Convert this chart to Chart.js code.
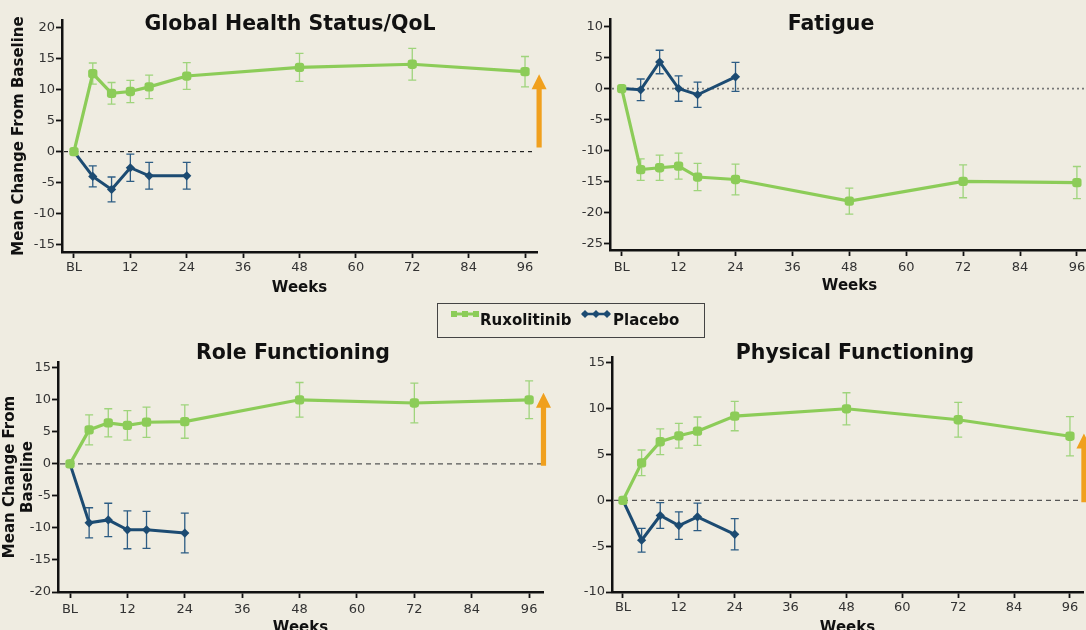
<!DOCTYPE html>
<html><head><meta charset="utf-8">
<script src="https://cdn.jsdelivr.net/npm/chart.js@4.4.1/dist/chart.umd.min.js"></script>
<style>
html,body{margin:0;padding:0;background:#efece1;width:1086px;height:630px;overflow:hidden;position:relative;font-family:"DejaVu Sans",Verdana,sans-serif;}
.wrap{position:absolute;}
.wrap canvas{display:block;}
.title{position:absolute;font-weight:bold;font-size:20.5px;line-height:20px;color:#111;white-space:nowrap;transform:translateX(-50%);}
#legend{position:absolute;left:437px;top:303px;width:266px;height:33px;border:1.5px solid #444;z-index:5;}
#legend .item{position:absolute;top:7px;font-weight:bold;font-size:15px;line-height:18px;color:#111;white-space:nowrap;}
#legend svg{position:absolute;}
</style></head>
<body>
<div class="wrap" style="left:0;top:0"><canvas id="c1" width="560" height="300"></canvas></div>
<div class="wrap" style="left:560px;top:0"><canvas id="c2" width="560" height="300"></canvas></div>
<div class="wrap" style="left:0;top:310px"><canvas id="c3" width="560" height="330"></canvas></div>
<div class="wrap" style="left:560px;top:310px"><canvas id="c4" width="540" height="330"></canvas></div>

<div class="title" style="left:290px;top:13px">Global Health Status/QoL</div>
<div class="title" style="left:831px;top:13px">Fatigue</div>
<div class="title" style="left:293px;top:342px">Role Functioning</div>
<div class="title" style="left:855px;top:342px">Physical Functioning</div>

<div id="legend">
  <svg style="left:13px;top:5px" width="28" height="10"><line x1="1" y1="5" x2="27" y2="5" stroke="#8ccc58" stroke-width="3"/><rect x="0" y="2" width="6" height="6" fill="#8ccc58"/><rect x="11" y="2" width="6" height="6" fill="#8ccc58"/><rect x="22" y="2" width="6" height="6" fill="#8ccc58"/></svg>
  <span class="item" style="left:42px">Ruxolitinib</span>
  <svg style="left:143px;top:5px" width="30" height="10"><line x1="1" y1="5" x2="29" y2="5" stroke="#1c4b72" stroke-width="2.5"/><path d="M4 1 L8 5 L4 9 L0 5Z M15 1 L19 5 L15 9 L11 5Z M26 1 L30 5 L26 9 L22 5Z" fill="#1c4b72"/></svg>
  <span class="item" style="left:175px">Placebo</span>
</div>

<script>
// ---- data ----
const weeksRux = [0, 4, 8, 12, 16, 24, 48, 72, 96];
const weeksPbo = [0, 4, 8, 12, 16, 24];
const xTickValues = [0, 12, 24, 36, 48, 60, 72, 84, 96];
const xTickLabels = ['BL', '12', '24', '36', '48', '60', '72', '84', '96'];
const seriesNames = ['Ruxolitinib', 'Placebo'];

// Global Health Status/QoL
const ghsRux    = [0, 12.6, 9.4, 9.7, 10.45, 12.2, 13.6, 14.1, 12.9];
const ghsRuxErr = [0, 1.7, 1.75, 1.8, 1.9, 2.15, 2.25, 2.55, 2.45];
const ghsPbo    = [0, -4.0, -6.1, -2.6, -3.9, -3.9];
const ghsPboErr = [0, 1.7, 2.0, 2.2, 2.15, 2.15];
const ghsYTicks = [-15, -10, -5, 0, 5, 10, 15, 20];
const ghsArrow  = [0.65, 12.5];

// Fatigue
const fatRux    = [0, -13.1, -12.8, -12.55, -14.3, -14.7, -18.2, -15.0, -15.2];
const fatRuxErr = [0, 1.75, 2.05, 2.1, 2.2, 2.5, 2.1, 2.65, 2.6];
const fatPbo    = [0, -0.2, 4.3, 0, -1.0, 1.9];
const fatPboErr = [0, 1.75, 1.9, 2.05, 2.05, 2.35];
const fatYTicks = [-25, -20, -15, -10, -5, 0, 5, 10];

// Role Functioning
const rfRux    = [0, 5.3, 6.4, 6.0, 6.5, 6.6, 10.0, 9.5, 10.0];
const rfRuxErr = [0, 2.35, 2.2, 2.3, 2.35, 2.6, 2.7, 3.1, 2.95];
const rfPbo    = [0, -9.2, -8.75, -10.3, -10.3, -10.8];
const rfPboErr = [0, 2.35, 2.6, 2.95, 2.9, 3.1];
const rfYTicks = [-20, -15, -10, -5, 0, 5, 10, 15];
const rfArrow  = [-0.3, 11.1];

// Physical Functioning
const pfRux    = [0, 4.1, 6.4, 7.05, 7.55, 9.2, 10.0, 8.8, 7.0];
const pfRuxErr = [0, 1.4, 1.4, 1.35, 1.55, 1.6, 1.75, 1.9, 2.15];
const pfPbo    = [0, -4.35, -1.65, -2.75, -1.8, -3.7];
const pfPboErr = [0, 1.3, 1.4, 1.5, 1.5, 1.7];
const pfYTicks = [-10, -5, 0, 5, 10, 15];
const pfArrow  = [-0.2, 7.3];

const arrowWeek = 99;

// ---- styling ----
const GREEN = '#8ccc58', GREEN_ERR = '#9fd47c', BLUE = '#1c4b72', BLUE_ERR = '#2d5c84', ORANGE = '#f0a01e';
const FONT = 'DejaVu Sans';

function makeDeco(p) {
  return {
    id: 'deco',
    beforeDatasetsDraw(chart) {
      const {ctx, chartArea: a, scales: {x, y}} = chart;
      const y0 = y.getPixelForValue(0);
      ctx.save();
      ctx.strokeStyle = p.zeroColor; ctx.lineWidth = p.zeroWidth; ctx.setLineDash(p.zeroDash);
      ctx.beginPath(); ctx.moveTo(a.left + 2, y0); ctx.lineTo(a.right - 2, y0); ctx.stroke();
      ctx.restore();
      chart.data.datasets.forEach(ds => {
        ctx.save();
        ctx.strokeStyle = ds.errColor; ctx.lineWidth = 1.3;
        ds.data.forEach((pt, i) => {
          const e = ds.errors[i];
          if (!e) return;
          const px = x.getPixelForValue(pt.x);
          const t = y.getPixelForValue(pt.y + e), b = y.getPixelForValue(pt.y - e);
          ctx.beginPath();
          ctx.moveTo(px, t); ctx.lineTo(px, b);
          ctx.moveTo(px - 4, t); ctx.lineTo(px + 4, t);
          ctx.moveTo(px - 4, b); ctx.lineTo(px + 4, b);
          ctx.stroke();
        });
        ctx.restore();
      });
    },
    afterDraw(chart) {
      if (!p.arrow) return;
      const {ctx, scales: {x, y}} = chart;
      const xp = x.getPixelForValue(arrowWeek);
      const yb = y.getPixelForValue(p.arrow[0]), yt = y.getPixelForValue(p.arrow[1]);
      const hw = 7.5, hl = 15, sw = 2.6;
      ctx.save();
      ctx.fillStyle = ORANGE;
      ctx.beginPath();
      ctx.moveTo(xp - sw, yb); ctx.lineTo(xp - sw, yt + hl); ctx.lineTo(xp - hw, yt + hl);
      ctx.lineTo(xp, yt); ctx.lineTo(xp + hw, yt + hl); ctx.lineTo(xp + sw, yt + hl);
      ctx.lineTo(xp + sw, yb); ctx.closePath(); ctx.fill();
      ctx.restore();
    }
  };
}

function pts(xs, ys) { return xs.map((v, i) => ({x: v, y: ys[i]})); }

function makePanel(p) {
  return new Chart(document.getElementById(p.id), {
    type: 'line',
    data: {
      datasets: [
        {label: seriesNames[0], data: pts(weeksRux, p.rux), errors: p.ruxErr, errColor: GREEN_ERR,
         borderColor: GREEN, backgroundColor: GREEN, borderWidth: 3.2, pointStyle: 'rectRounded',
         pointRadius: 5.4, pointBorderWidth: 0, tension: 0},
        {label: seriesNames[1], data: pts(weeksPbo, p.pbo), errors: p.pboErr, errColor: BLUE_ERR,
         borderColor: BLUE, backgroundColor: BLUE, borderWidth: 3, pointStyle: 'rectRot',
         pointRadius: 4.6, pointBorderWidth: 0, tension: 0}
      ]
    },
    options: {
      responsive: false, animation: false, events: [],
      layout: {padding: {left: 0, top: p.padTop, right: p.padRight, bottom: 0}},
      plugins: {legend: {display: false}, tooltip: {enabled: false}},
      scales: {
        x: {
          type: 'linear', min: p.xMin, max: p.xMax,
          afterBuildTicks: s => { s.ticks = xTickValues.map(v => ({value: v})); },
          afterFit: s => { s.height = p.xHeight; },
          ticks: {callback: (v, i) => xTickLabels[i], font: {family: FONT, size: 13}, color: '#333',
                  padding: p.xTickPad, maxRotation: 0, autoSkip: false},
          grid: {drawOnChartArea: false, drawTicks: true, tickLength: 6, tickColor: '#111', tickWidth: 1.8},
          border: {color: '#111', width: 2.5},
          title: {display: true, text: 'Weeks', font: {family: FONT, size: 15, weight: 'bold'}, color: '#111',
                  padding: {top: 0, bottom: p.xTitlePad}}
        },
        y: {
          type: 'linear', min: p.yMin, max: p.yMax,
          afterBuildTicks: s => { s.ticks = p.yTicks.map(v => ({value: v})); },
          afterFit: s => { s.width = p.yWidth; },
          ticks: {font: {family: FONT, size: 13}, color: '#333', padding: 1, autoSkip: false},
          grid: {drawOnChartArea: false, drawTicks: true, tickLength: 6, tickColor: '#111', tickWidth: 1.8},
          border: {color: '#111', width: 2.5},
          title: {display: !!p.yTitle, text: p.yTitle || '', font: {family: FONT, size: 15, weight: 'bold'},
                  color: '#111', padding: {top: p.yTitlePad || 0, bottom: 0}}
        }
      }
    },
    plugins: [makeDeco(p)]
  });
}

makePanel({id: 'c1', rux: ghsRux, ruxErr: ghsRuxErr, pbo: ghsPbo, pboErr: ghsPboErr, yTicks: ghsYTicks,
  yMin: -16.2, yMax: 21.24, xMin: -2.55, xMax: 98.55, padTop: 20, padRight: 23, xHeight: 48, yWidth: 62,
  xTickPad: 2, xTitlePad: 3, yTitle: 'Mean Change From Baseline', yTitlePad: 10,
  zeroColor: '#222', zeroWidth: 1.2, zeroDash: [4, 4], arrow: ghsArrow});

makePanel({id: 'c2', rux: fatRux, ruxErr: fatRuxErr, pbo: fatPbo, pboErr: fatPboErr, yTicks: fatYTicks,
  yMin: -26.1, yMax: 11.25, xMin: -2.47, xMax: 98.55, padTop: 19, padRight: 31, xHeight: 50, yWidth: 50,
  xTickPad: 4, xTitlePad: 5, yTitle: null,
  zeroColor: '#777', zeroWidth: 1.6, zeroDash: [2, 3], arrow: null});

makePanel({id: 'c3', rux: rfRux, ruxErr: rfRuxErr, pbo: rfPbo, pboErr: rfPboErr, yTicks: rfYTicks,
  yMin: -20, yMax: 15.9, xMin: -2.51, xMax: 98.9, padTop: 52, padRight: 17, xHeight: 48, yWidth: 58,
  xTickPad: 4, xTitlePad: 3, yTitle: ['Mean Change From', 'Baseline'], yTitlePad: 1,
  zeroColor: '#555', zeroWidth: 1.3, zeroDash: [5, 4], arrow: rfArrow});

makePanel({id: 'c4', rux: pfRux, ruxErr: pfRuxErr, pbo: pfPbo, pboErr: pfPboErr, yTicks: pfYTicks,
  yMin: -10, yMax: 15.65, xMin: -2.36, xMax: 98.8, padTop: 47, padRight: 17, xHeight: 48, yWidth: 52,
  xTickPad: 2, xTitlePad: 3, yTitle: null,
  zeroColor: '#555', zeroWidth: 1.3, zeroDash: [5, 4], arrow: pfArrow});
</script>
</body></html>
